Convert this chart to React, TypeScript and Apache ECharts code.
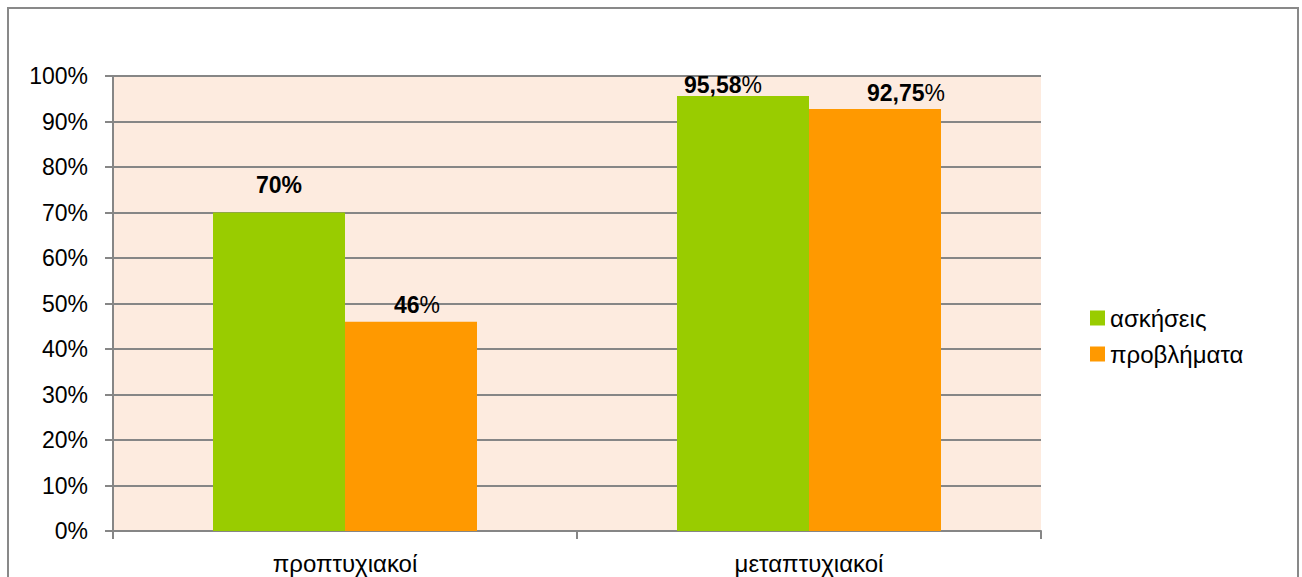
import React, { useEffect, useRef } from "react";
import * as echarts from "echarts";

const categories = ["προπτυχιακοί", "μεταπτυχιακοί"];
const seriesNames = ["ασκήσεις", "προβλήματα"];
const askiseis = [70, 95.58];
const provlimata = [46, 92.75];
const yTicks = [0, 10, 20, 30, 40, 50, 60, 70, 80, 90, 100];
const colors = ["#99CC00", "#FF9900"];
// label tweaks (Excel manual positions)
const askiseisLabelOffset = [[0, -11], [-20, 5]];
const provlimataLabelOffset = [[6, 0], [31, 1]];
const askiseisBoldPct = [true, false];
const provlimataBoldPct = [false, false];

const fmt = (v: number) => String(v).replace(".", ",");

export default function App() {
  const ref = useRef<HTMLDivElement>(null);
  useEffect(() => {
    if (!ref.current) return;
    const chart = echarts.init(ref.current, null, { renderer: "svg" });
    const font = "'Liberation Sans', Arial, sans-serif";
    const mkData = (vals: number[], offs: number[][], boldPct: boolean[]) =>
      vals.map((v, i) => ({
        value: v,
        label: {
          offset: offs[i],
          formatter: () => `{n|${fmt(v)}}{${boldPct[i] ? "b" : "p"}|%}`,
        },
      }));
    const labelBase = {
      show: true,
      position: "top",
      distance: 5,
      rich: {
        n: { fontFamily: font, fontSize: 23, fontWeight: "bold", color: "#000" },
        b: { fontFamily: font, fontSize: 23, fontWeight: "bold", color: "#000" },
        p: { fontFamily: font, fontSize: 23, fontWeight: "normal", color: "#000" },
      },
    };
    chart.setOption({
      animation: false,
      textStyle: { fontFamily: font },
      graphic: [
        {
          type: "rect",
          shape: { x: 8, y: 8, width: 1290, height: 640 },
          style: { fill: "none", stroke: "#898989", lineWidth: 2 },
          silent: true,
        },
      ],
      grid: {
        left: 113,
        top: 76,
        width: 928,
        height: 455,
        show: true,
        backgroundColor: "#FDEBDF",
        borderWidth: 0,
      },
      legend: {
        orient: "vertical",
        left: 1085,
        top: 301,
        itemWidth: 15,
        itemHeight: 15,
        itemGap: 12,
        icon: "rect",
        data: seriesNames,
        textStyle: { fontFamily: font, fontSize: 24, color: "#000" },
      },
      xAxis: {
        type: "category",
        data: categories,
        axisLine: { show: true, lineStyle: { color: "#868686", width: 2 } },
        axisTick: { show: true, length: 8, lineStyle: { color: "#868686", width: 2 } },
        axisLabel: { fontFamily: font, fontSize: 24, color: "#000", margin: 20 },
      },
      yAxis: {
        type: "value",
        min: 0,
        max: 100,
        interval: 10,
        axisLine: { show: true, lineStyle: { color: "#868686", width: 2 } },
        axisTick: { show: true, length: 8, lineStyle: { color: "#868686", width: 2 } },
        splitLine: { show: true, lineStyle: { color: "#868686", width: 2 } },
        axisLabel: {
          fontFamily: font,
          fontSize: 23,
          color: "#000",
          margin: 25,
          formatter: (v: number) => (yTicks.includes(v) ? `${v}%` : ""),
        },
      },
      series: [
        {
          name: seriesNames[0],
          type: "bar",
          barWidth: 132,
          barGap: "0%",
          itemStyle: { color: colors[0] },
          label: labelBase,
          data: mkData(askiseis, askiseisLabelOffset, askiseisBoldPct),
        },
        {
          name: seriesNames[1],
          type: "bar",
          barWidth: 132,
          barGap: "0%",
          itemStyle: { color: colors[1] },
          label: labelBase,
          data: mkData(provlimata, provlimataLabelOffset, provlimataBoldPct),
        },
      ],
    });
    return () => chart.dispose();
  }, []);
  return (
    <div
      ref={ref}
      style={{ position: "fixed", left: 0, top: 0, width: 1302, height: 577, background: "#fff" }}
    />
  );
}
